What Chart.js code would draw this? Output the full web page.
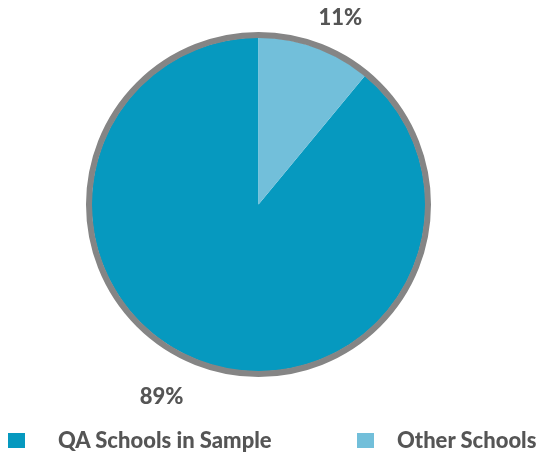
<!DOCTYPE html>
<html>
<head>
<meta charset="utf-8">
<script src="https://cdn.jsdelivr.net/npm/chart.js@4/dist/chart.umd.min.js"></script>
<style>
  html, body { margin: 0; padding: 0; background: #ffffff; }
  #wrap { position: relative; width: 539px; height: 455px; overflow: hidden; }
  #pie { position: absolute; left: 0; top: 0; }
  .lg { position: absolute; top: 427px; height: 26px; font-family: Lato, "Open Sans", sans-serif; font-weight: 900; font-size: 22px; color: #555555; white-space: nowrap; line-height: 26px; }
  .sw { position: absolute; top: 433px; width: 17px; height: 15px; }
</style>
</head>
<body>
<div id="wrap">
  <canvas id="pie" width="539" height="455"></canvas>
  <div class="sw" id="sw0" style="left:8px;"></div>
  <div class="lg" id="lg0" style="left:58px;"></div>
  <div class="sw" id="sw1" style="left:357px;"></div>
  <div class="lg" id="lg1" style="left:397px;"></div>
</div>
<script>
// Share of schools
const categories = ['QA Schools in Sample', 'Other Schools'];
const shares = [89, 11];
const valueLabels = ['89%', '11%'];
const sliceColors = ['#0699bf', '#72bfda'];

// label anchors, in units of pie radius from the pie centre
const labelOffsets = [[-0.58, 1.15], [0.49, -1.115]];

// start the first slice where the smaller one ends, so "Other Schools" sits right of 12 o'clock
const total = shares.reduce((s, v) => s + v, 0);
const startAngle = shares[1] / total * 360;

// grey rim around the pie and the percentage labels
const rimAndLabels = {
  id: 'rimAndLabels',
  afterDatasetsDraw(chart) {
    const ctx = chart.ctx;
    const arcs = chart.getDatasetMeta(0).data;
    const a = arcs[0];
    ctx.save();
    ctx.beginPath();
    ctx.arc(a.x, a.y, a.outerRadius + 2.5, 0, Math.PI * 2);
    ctx.lineWidth = 6;
    ctx.strokeStyle = '#858585';
    ctx.stroke();

    ctx.font = '900 22px Lato, "Open Sans", sans-serif';
    ctx.fillStyle = '#555555';
    ctx.textAlign = 'center';
    ctx.textBaseline = 'middle';
    arcs.forEach((arc, i) => {
      const r = arc.outerRadius;
      ctx.fillText(valueLabels[i], arc.x + labelOffsets[i][0] * r, arc.y + labelOffsets[i][1] * r);
    });
    ctx.restore();
  }
};

new Chart(document.getElementById('pie'), {
  type: 'pie',
  data: {
    labels: categories,
    datasets: [{
      data: shares,
      backgroundColor: sliceColors,
      borderWidth: 0
    }]
  },
  options: {
    responsive: false,
    animation: false,
    rotation: startAngle,
    layout: { padding: { left: 91.5, right: 113.5, top: 37.5, bottom: 83.5 } },
    plugins: {
      legend: { display: false },
      tooltip: { enabled: false }
    }
  },
  plugins: [rimAndLabels]
});

categories.forEach((c, i) => {
  document.getElementById('lg' + i).textContent = c;
  document.getElementById('sw' + i).style.background = sliceColors[i];
});
</script>
</body>
</html>
